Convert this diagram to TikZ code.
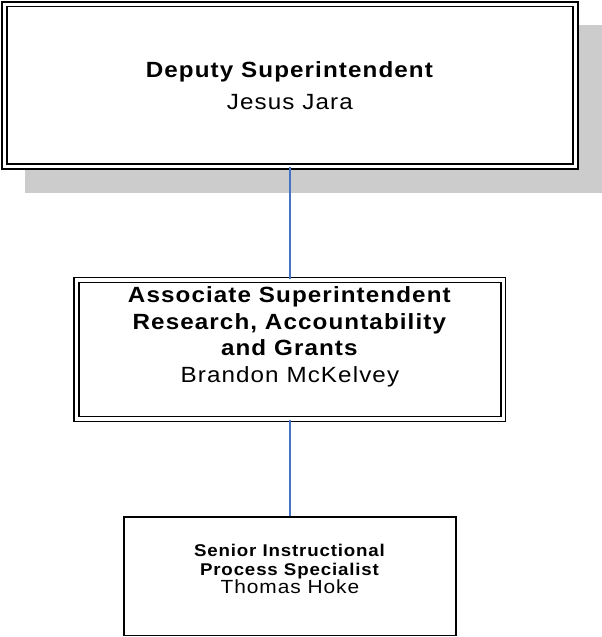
\documentclass[tikz,border=0pt]{standalone}
\usepackage{fontspec}
\setmainfont{Liberation Sans}
\newfontfamily\chartfont[FakeStretch=1.1, LetterSpace=5]{Liberation Sans}

\definecolor{linkblue}{RGB}{68,114,196}
\definecolor{shadowgray}{RGB}{204,204,204}

\begin{document}
\begin{tikzpicture}[x=1pt, y=-1pt,
  box/.style = {draw, fill=white, double, double distance=3.2pt, line width=1.6pt, inner sep=0pt},
  plainbox/.style = {draw, fill=white, line width=1.7pt, inner sep=0pt},
  link/.style = {draw=linkblue, line width=1.9pt},
  bigtext/.style = {align=center, inner sep=0pt, font=\chartfont\fontsize{22}{26.5}\selectfont},
  smalltext/.style = {align=center, inner sep=0pt, font=\chartfont\fontsize{17}{18.5}\selectfont}]

\useasboundingbox (0,0) rectangle (602,637);

\fill[shadowgray] (25,25) rectangle (602,193.3);

% boxes
\node[box, minimum width=571pt, minimum height=162.3pt] (deputy) at (289.9,85.4) {};
\node[box, minimum width=426.7pt, minimum height=139pt] (assoc) at (289.9,349.5) {};
\node[plainbox, minimum width=331.8pt, minimum height=118.2pt] (senior) at (289.9,576.4) {};

% texts
\node[bigtext] (deputytext) at (289.9,85.5) {\textbf{Deputy Superintendent}\\[5pt] Jesus Jara};
\node[bigtext] (assoctext) at (289.9,337) {\textbf{Associate Superintendent}\\ \textbf{Research, Accountability}\\ \textbf{and Grants}\\ Brandon McKelvey};
\node[smalltext] (seniortext) at (289.9,569) {\textbf{Senior Instructional}\\ \textbf{Process Specialist}\\ {\fontsize{19}{18.5}\selectfont Thomas Hoke}};

% connectors
\draw[link] (deputy.south) -- (assoc.north);
\draw[link] (assoc.south) -- (senior.north);
\end{tikzpicture}
\end{document}
